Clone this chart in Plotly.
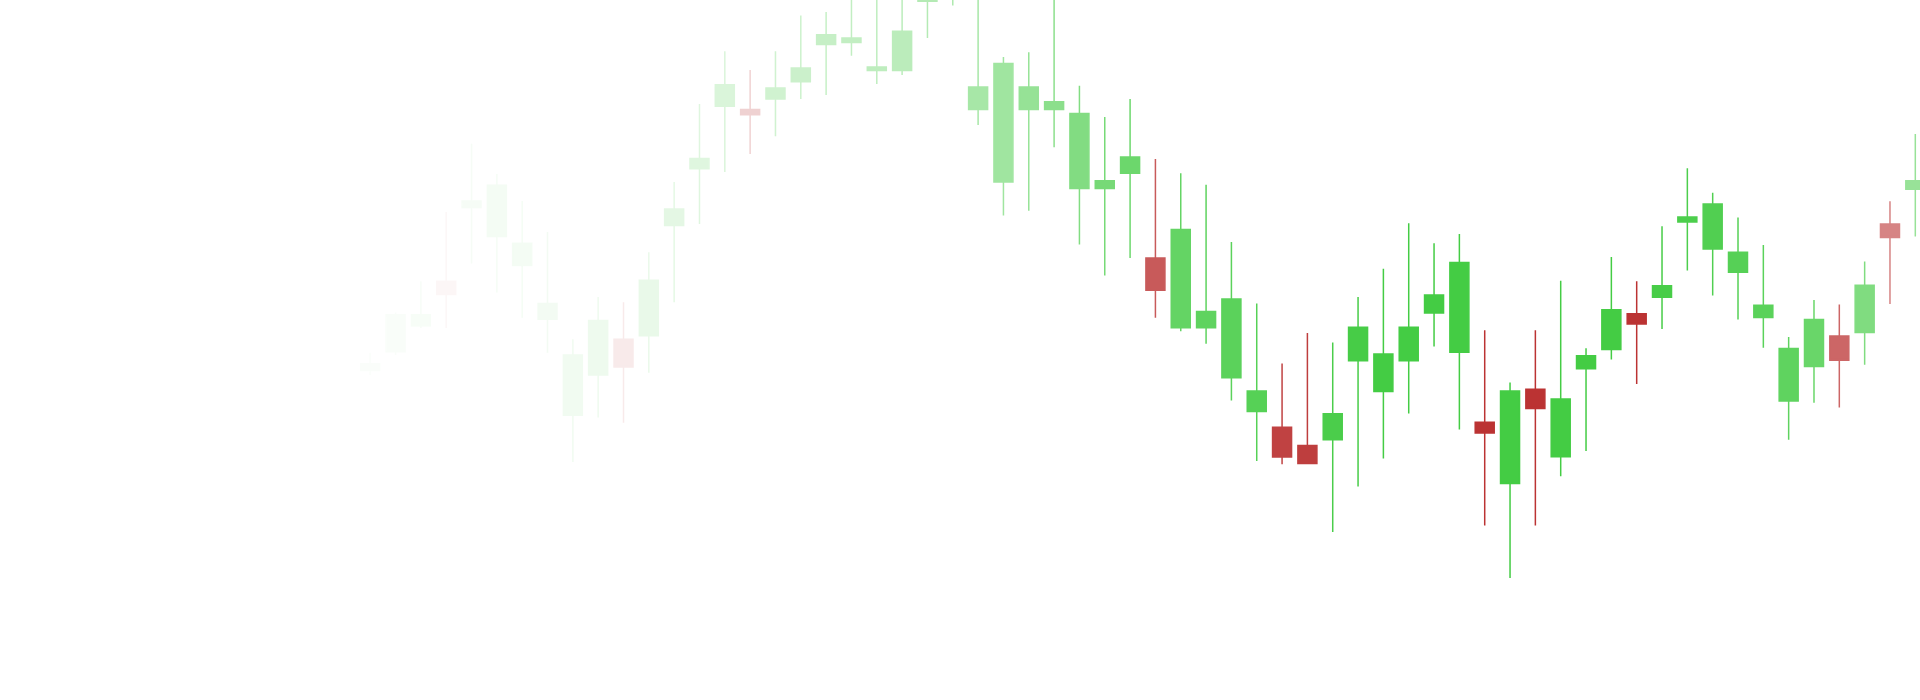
import numpy as np
import plotly.graph_objects as go

# ---- data (price units) ----
idx = list(range(62))
open_ = [82.95, 84.82, 87.41, 91.88, 99.24, 96.34, 93.44, 88.08, 78.48, 82.50,
         86.07, 86.43, 97.46, 103.13, 109.38, 109.06, 110.09, 111.83, 115.54, 115.76,
         112.95, 112.95, 119.87, 121.50, 109.06, 101.79, 109.06, 109.06, 101.16, 101.16,
         102.68, 94.20, 87.23, 87.23, 82.23, 78.84, 77.28, 75.45, 76.03, 83.93,
         80.85, 83.93, 88.71, 84.78, 77.77, 71.65, 81.07, 74.33, 83.13, 85.05,
         88.62, 90.27, 97.81, 95.09, 92.77, 88.26, 79.91, 83.35, 86.39, 86.74,
         97.59, 101.07]
high = [84.73, 88.75, 91.88, 98.80, 105.63, 102.59, 99.91, 96.79, 86.07, 90.31,
        89.78, 94.78, 101.79, 109.60, 114.87, 112.99, 114.87, 118.44, 118.79, 121.50,
        122.00, 121.00, 123.50, 124.50, 121.00, 114.29, 114.78, 120.50, 111.43, 108.30,
        110.09, 104.11, 102.68, 101.52, 95.80, 89.64, 83.66, 86.70, 85.76, 90.31,
        93.13, 97.68, 95.67, 96.61, 86.97, 81.74, 86.97, 91.92, 85.18, 94.29,
        91.88, 97.37, 103.17, 100.72, 98.26, 95.49, 86.30, 90.00, 89.56, 93.84,
        99.87, 106.61]
low = [82.50, 84.51, 87.19, 87.19, 93.66, 90.76, 88.22, 84.73, 73.80, 78.26,
       77.73, 82.73, 89.78, 97.59, 102.81, 104.60, 106.38, 110.09, 110.49, 114.42,
       111.61, 112.50, 116.21, 119.46, 107.50, 98.44, 98.93, 105.27, 95.54, 92.46,
       94.20, 88.22, 86.88, 85.63, 79.96, 73.89, 73.57, 73.62, 66.79, 71.34,
       74.15, 78.66, 85.36, 77.06, 67.46, 62.19, 67.46, 72.37, 74.91, 84.06,
       81.61, 87.10, 92.95, 90.45, 88.04, 85.22, 76.03, 79.73, 79.24, 83.53,
       89.60, 96.34]
close = [83.62, 88.53, 88.53, 90.54, 99.91, 101.47, 95.67, 89.64, 84.51, 87.95,
         83.31, 91.97, 99.11, 104.15, 111.52, 108.53, 111.21, 113.21, 116.52, 116.21,
         113.30, 116.88, 121.80, 123.00, 111.30, 113.66, 111.30, 109.82, 108.66, 101.92,
         104.29, 90.98, 97.05, 88.84, 90.09, 80.90, 74.29, 73.66, 78.62, 87.28,
         84.60, 87.28, 90.49, 93.75, 76.70, 80.90, 79.15, 80.09, 84.42, 89.02,
         87.59, 91.43, 98.30, 99.60, 94.78, 89.47, 85.14, 88.04, 83.98, 91.47,
         96.25, 101.92]

# ---- style ----
GREEN = "#44CC44"
RED = "#BB3333"
fade_i = [0, 3, 7, 11, 15, 18, 21, 25, 30, 36, 40, 50, 53, 56, 58, 60, 61]
fade_a = [0.02, 0.04, 0.06, 0.11, 0.22, 0.30, 0.36, 0.50, 0.78, 0.92, 1.0, 1.0, 0.93, 0.85, 0.75, 0.60, 0.55]
alphas = np.interp(idx, fade_i, fade_a)

fig = go.Figure()
for k, i in enumerate(idx):
    fig.add_trace(go.Candlestick(
        x=[i], open=[open_[k]], high=[high[k]], low=[low[k]], close=[close[k]],
        increasing=dict(line=dict(color=GREEN, width=1.5), fillcolor=GREEN),
        decreasing=dict(line=dict(color=RED, width=1.5), fillcolor=RED),
        opacity=float(alphas[k]), showlegend=False, hoverinfo="skip",
    ))

fig.update_layout(
    width=1920, height=700,
    margin=dict(l=0, r=0, t=0, b=0),
    paper_bgcolor="white", plot_bgcolor="white",
    boxmode="overlay", boxgap=0.25, boxgroupgap=0,
    xaxis=dict(range=[-14.615, 61.185], visible=False, showgrid=False,
               zeroline=False, rangeslider=dict(visible=False)),
    yaxis=dict(range=[50, 120], visible=False, showgrid=False, zeroline=False),
    showlegend=False,
)

fig.write_html(
    "out.html",
    config={"displayModeBar": False, "staticPlot": True},
    post_script="document.body.style.margin='0';document.body.style.overflow='hidden';"
                "document.documentElement.style.overflow='hidden';",
)
